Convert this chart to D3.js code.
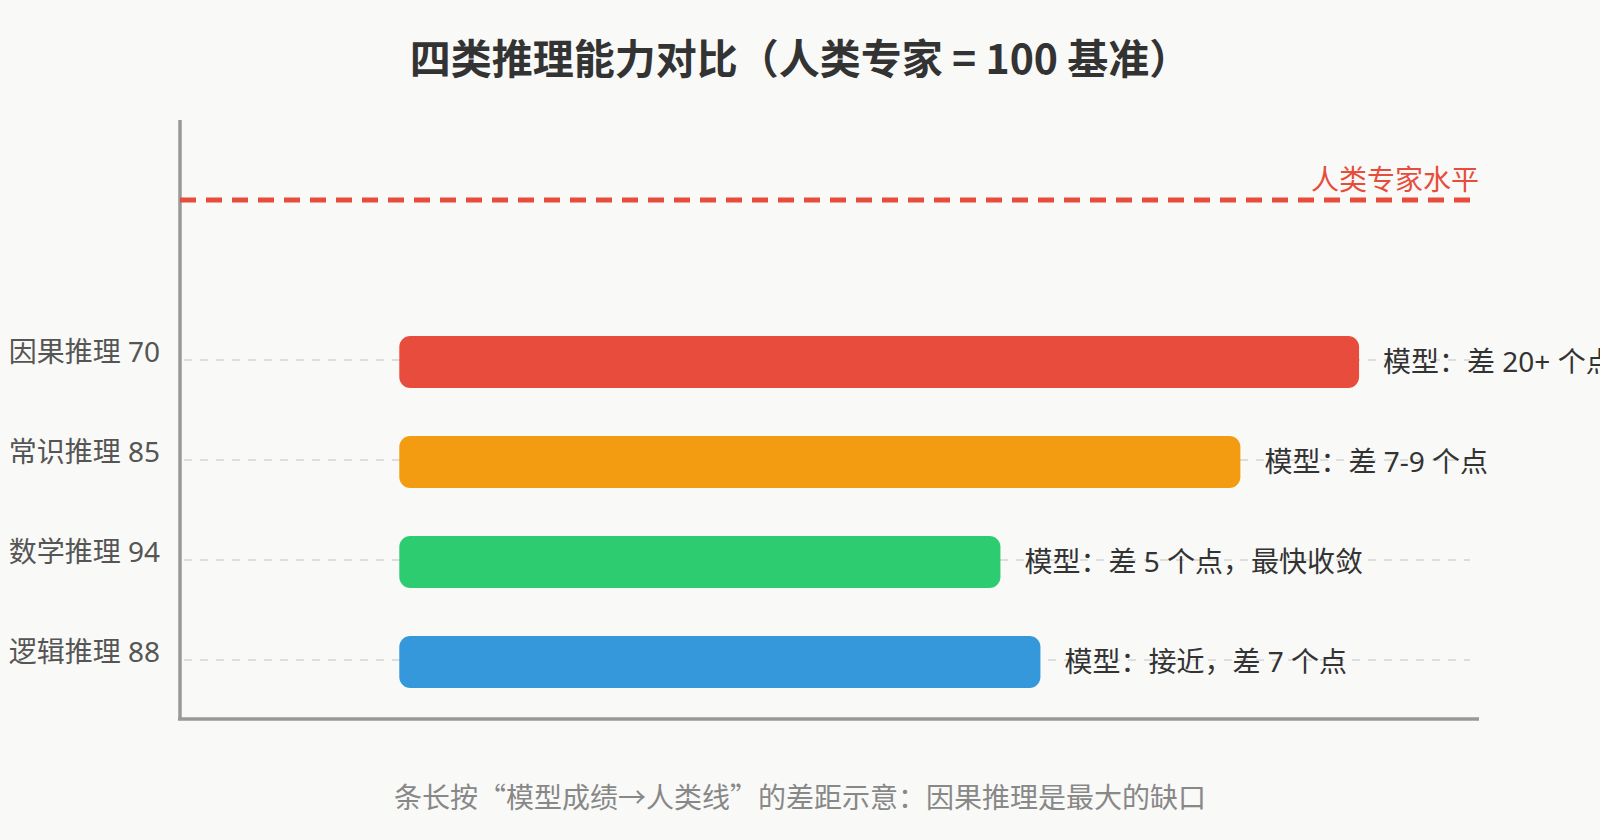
<!DOCTYPE html>
<html>
<head>
<meta charset="utf-8">
<script src="https://cdn.jsdelivr.net/npm/d3@7"></script>
<style>
  body{margin:0;background:#f9f9f7;}
  svg{display:block;font-family:"Noto Sans","Noto Sans CJK SC",sans-serif;}
  .cjk{font-family:"Noto Sans CJK SC",sans-serif;}
</style>
</head>
<body>
<svg id="chart"></svg>
<script>
// data
var categories=["因果推理","常识推理","数学推理","逻辑推理"]
var scores=[70,85,94,88]
var barStart=[17,17,17,17]
var barEnd=[91.4,82.2,63.6,66.7]
var notes=["模型：差 20+ 个点","模型：差 7-9 个点","模型：差 5 个点，最快收敛","模型：接近，差 7 个点"]
var colors=["#e74c3c","#f39c12","#2ecc71","#3498db"]
var humanLevel=100

var screen={width:1600,height:840}
var svg=d3.select("#chart")
          .attr("width",screen.width)
          .attr("height",screen.height)

var x=d3.scaleLinear().domain([0,100]).range([180,1470])
var y=d3.scalePoint().domain(categories).range([360,660])

var rows=categories.map(function(c,i){
  return {cat:c,score:scores[i],s:barStart[i],e:barEnd[i],note:notes[i],color:colors[i]}
})

// title
svg.append("text")
   .classed("cjk",true)
   .attr("x",800).attr("y",74)
   .attr("text-anchor","middle")
   .attr("font-size",41).attr("font-weight","bold")
   .attr("fill","#333")
   .text("四类推理能力对比（人类专家 = 100 基准）")

// grid lines
svg.append("g").selectAll("line")
   .data(rows).enter().append("line")
   .attr("x1",184).attr("x2",x(100))
   .attr("y1",function(d){return y(d.cat)})
   .attr("y2",function(d){return y(d.cat)})
   .attr("stroke","#ddd").attr("stroke-width",2)
   .attr("stroke-dasharray","8,8")

// axes
svg.append("line").attr("x1",180).attr("x2",180).attr("y1",120).attr("y2",719)
   .attr("stroke","#999").attr("stroke-width",3.5)
svg.append("line").attr("x1",178).attr("x2",1479).attr("y1",719).attr("y2",719)
   .attr("stroke","#999").attr("stroke-width",3.5)

// human line
svg.append("line")
   .attr("x1",x(0)).attr("x2",x(humanLevel))
   .attr("y1",200).attr("y2",200)
   .attr("stroke","#e74c3c").attr("stroke-width",5)
   .attr("stroke-dasharray","16,10")
svg.append("text")
   .attr("x",1479).attr("y",190)
   .attr("text-anchor","end")
   .attr("font-size",28).attr("fill","#e74c3c")
   .text("人类专家水平")

// bars
svg.append("g").selectAll("rect")
   .data(rows).enter().append("rect")
   .attr("x",function(d){return x(d.s)})
   .attr("y",function(d){return y(d.cat)-24})
   .attr("width",function(d){return x(d.e)-x(d.s)})
   .attr("height",52)
   .attr("rx",11)
   .attr("fill",function(d){return d.color})

// category labels
svg.append("g").selectAll("text")
   .data(rows).enter().append("text")
   .attr("x",160)
   .attr("y",function(d){return y(d.cat)+2})
   .attr("text-anchor","end")
   .attr("font-size",28).attr("fill","#555")
   .text(function(d){return d.cat+" "+d.score})

// notes
svg.append("g").selectAll("text")
   .data(rows).enter().append("text")
   .attr("x",function(d){return x(d.e)+24})
   .attr("y",function(d){return y(d.cat)+2})
   .attr("dy","0.35em")
   .attr("font-size",28).attr("fill","#333")
   .text(function(d){return d.note})

// footer
svg.append("text")
   .classed("cjk",true)
   .attr("x",800).attr("y",808)
   .attr("text-anchor","middle")
   .attr("font-size",28).attr("fill","#888")
   .text("条长按“模型成绩→人类线”的差距示意：因果推理是最大的缺口")
</script>
</body>
</html>
